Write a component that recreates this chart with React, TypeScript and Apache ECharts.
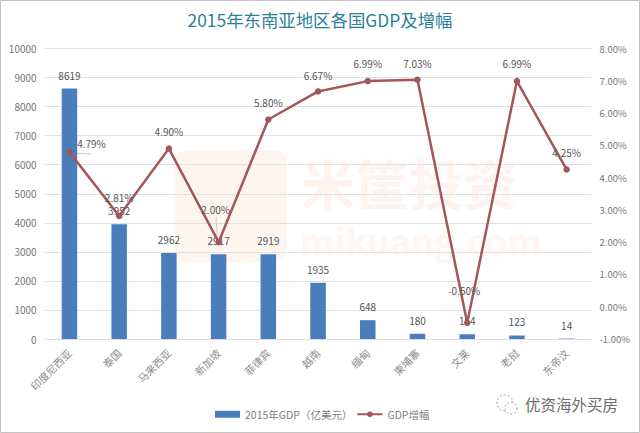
import React, { useEffect, useRef } from "react";
import * as echarts from "echarts";

const categories = ["印度尼西亚", "泰国", "马来西亚", "新加坡", "菲律宾", "越南", "缅甸", "柬埔寨", "文莱", "老挝", "东帝汶"];
const gdp = [8619, 3952, 2962, 2917, 2919, 1935, 648, 180, 164, 123, 14];
const growth = [4.79, 2.81, 4.9, 2.0, 5.8, 6.67, 6.99, 7.03, -0.5, 6.99, 4.25];
const barName = "2015年GDP（亿美元）";
const lineName = "GDP增幅";
const titleText = "2015年东南亚地区各国GDP及增幅";

const lineLabelOffsets: [number, number][] = [[22, 9], [0, -1], [0, 0], [-3, -15], [0, 0], [0, 1], [0, 0], [0, 1], [-3, -15], [0, 0], [0, 0]];
const FONT = '"Noto Sans CJK SC", "Open Sans", sans-serif';

export default function App() {
  const ref = useRef<HTMLDivElement>(null);
  useEffect(() => {
    document.body.style.margin = "0";
    const chart = echarts.init(ref.current!, null, { renderer: "svg" });
    chart.setOption({
      animation: false,
      backgroundColor: "#ffffff",
      textStyle: { fontFamily: FONT },
      title: {
        text: titleText,
        left: "center",
        top: 6,
        textStyle: { color: "#2b7f9c", fontSize: 17.4, fontWeight: "normal", fontFamily: FONT },
      },
      legend: {
        top: 404,
        left: 210,
        itemGap: 4,
        itemWidth: 25,
        itemHeight: 7,
        textStyle: { color: "#808080", fontSize: 10.5 },
        data: [{ name: barName, icon: "rect" }, { name: lineName }],
      },
      grid: { left: 44.6, right: 48.5, top: 48.5, bottom: 94 },
      xAxis: {
        type: "category",
        data: categories,
        axisTick: { show: false },
        axisLine: { lineStyle: { color: "#d9dce3" } },
        axisLabel: { rotate: 45, color: "#8c8c8c", fontSize: 10.5, margin: 12, interval: 0 },
      },
      yAxis: [
        {
          type: "value", min: 0, max: 10000, interval: 1000,
          axisLine: { show: false }, axisTick: { show: false },
          axisLabel: { color: "#777", fontSize: 10, margin: 8, formatter: (v: number) => String(v) },
          splitLine: { lineStyle: { color: "#dfe1e7", width: 1 } },
        },
        {
          type: "value", min: -1, max: 8, interval: 1,
          axisLine: { show: false }, axisTick: { show: false },
          axisLabel: { color: "#777", fontSize: 9.5, margin: 8, formatter: (v: number) => v.toFixed(2) + "%" },
          splitLine: { show: false },
        },
      ],
      series: [
        {
          name: barName,
          type: "bar",
          data: gdp,
          barWidth: 15.5,
          itemStyle: { color: "#4a7ebb" },
          label: { show: true, position: "top", color: "#555", fontSize: 10, distance: 8.5 },
        },
        {
          name: lineName,
          type: "line",
          yAxisIndex: 1,
          data: growth.map((v, i) => ({
            value: v,
            label: { offset: lineLabelOffsets[i] },
          })),
          symbol: "circle",
          symbolSize: 6.5,
          z: 5,
          lineStyle: { color: "#a5565b", width: 2.5 },
          itemStyle: { color: "#a5565b" },
          label: {
            show: true, position: "top", color: "#555", fontSize: 10, distance: 9,
            formatter: (p: any) => Number(p.value).toFixed(2) + "%",
          },
        },
      ],
      graphic: [
        { type: "rect", z: -1, silent: true, shape: { x: 174, y: 150, width: 113, height: 112, r: 14 }, style: { fill: "#fef5ee" } },
        { type: "text", z: -1, silent: true, x: 301, y: 155, style: { text: "米筐投资", font: `bold 54px ${FONT}`, fill: "#fef3ee" } },
        { type: "text", z: -1, silent: true, x: 300, y: 221, style: { text: "mikuang.com", font: `bold 36px ${FONT}`, fill: "#fef6f1" } },
        { type: "line", silent: true, shape: { x1: 72, y1: 153, x2: 91, y2: 154 }, style: { stroke: "#c8c8c8", lineWidth: 1 } },
        { type: "line", silent: true, shape: { x1: 216, y1: 217, x2: 217.5, y2: 240 }, style: { stroke: "#d0d0d0", lineWidth: 1 } },
        { type: "circle", silent: true, shape: { cx: 505, cy: 403, r: 8 }, style: { fill: "none", stroke: "#999", lineWidth: 1, lineDash: [2, 2] } },
        { type: "circle", silent: true, shape: { cx: 511, cy: 408, r: 6 }, style: { fill: "#fff", stroke: "#999", lineWidth: 1, lineDash: [2, 2] } },
        { type: "text", silent: true, x: 525, y: 396, style: { text: "优资海外买房", font: `15.5px ${FONT}`, fill: "#6e6e6e" } },
        { type: "rect", silent: true, shape: { x: 0.5, y: 0.5, width: 639, height: 432 }, style: { fill: "none", stroke: "#c4c4c4", lineWidth: 1 } },
      ],
    });
    return () => chart.dispose();
  }, []);
  return <div ref={ref} style={{ width: 640, height: 433 }} />;
}
